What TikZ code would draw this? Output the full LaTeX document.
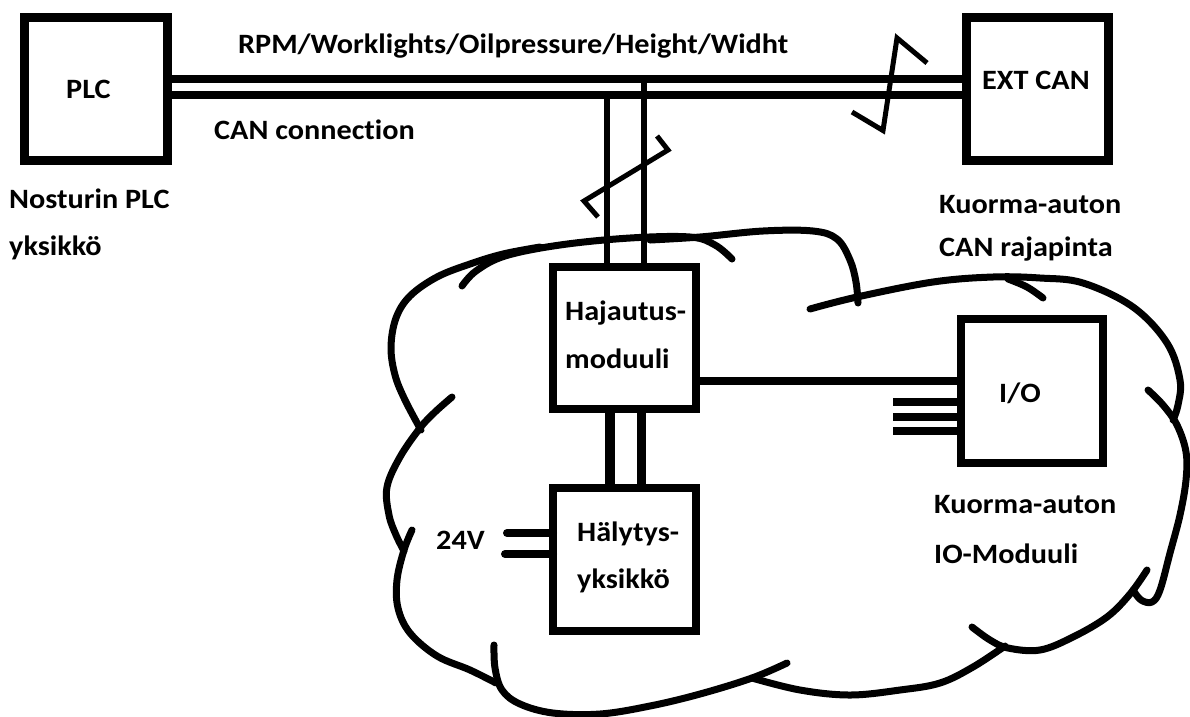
\documentclass[tikz,border=0pt]{standalone}
\usepackage{fontspec}
\setmainfont{Carlito}[FakeStretch=1.08, Ligatures=NoCommon]
\usetikzlibrary{calc}
\begin{document}
\begin{tikzpicture}[x=1pt,y=-1pt,
  box/.style={draw, line width=8.5pt, inner sep=0pt, outer sep=0pt,
              minimum width=143pt, minimum height=143pt},
  lbl/.style={font=\fontsize{28}{32}\selectfont\bfseries, inner sep=0pt, anchor=base west},
  wire/.style={line width=8pt},
  drop/.style={line width=6pt},
  brk/.style={line width=5pt, line join=miter},
  cloudline/.style={line width=7pt, line cap=round, line join=round}]

% canvas
\fill[white] (0,0) rectangle (1190,716);
\useasboundingbox (0,0) rectangle (1190,716);

% ---------------- cloud (truck side) ----------------
% upper-left lobe
\draw[cloudline] plot[smooth, tension=0.6] coordinates {(421,430) (405,400) (395,375) (391,347) (396,318) (410,296) (437,277) (470,264) (503,254) (540,247)};
% top-left lobe
\draw[cloudline] plot[smooth, tension=0.6] coordinates {(462,286) (476,271) (505,256) (560,245) (630,238) (690,237) (715,245) (732,259)};
% top-middle lobe
\draw[cloudline] plot[smooth, tension=0.6] coordinates {(650,240) (700,237) (763,231) (813,231) (837,239) (850,260) (856,282) (858,303)};
% top-right lobe
\draw[cloudline] plot[smooth, tension=0.6] coordinates {(810,309) (857,297) (933,282) (993,277) (1040,278) (1083,283) (1133,307) (1167,343) (1180,380) (1178,405) (1173,420)};
\draw[cloudline] plot[smooth, tension=0.6] coordinates {(1008,279) (1027,287) (1043,298)};
% right lobe
\draw[cloudline] plot[smooth, tension=0.6] coordinates {(1148,390) (1163,405) (1177,425) (1186,452) (1186,480) (1180,515) (1170,553) (1160,590) (1152,602) (1141,600) (1133,590)};
% bottom-right lobe
\draw[cloudline] plot[smooth, tension=0.6] coordinates {(972,627) (990,640) (1008,648) (1040,650) (1073,637) (1107,617) (1130,594) (1147,570)};
% bottom-middle lobe
\draw[cloudline] plot[smooth, tension=0.6] coordinates {(752,678) (800,690) (850,695) (900,690) (940,683) (973,667) (1005,646)};
% bottom-left lobe
\draw[cloudline] plot[smooth, tension=0.6] coordinates {(494,645) (495,668) (502,690) (520,704) (553,713) (600,714) (650,706) (700,694) (752,678) (787,663)};
% lower-left lobe
\draw[cloudline] plot[smooth, tension=0.6] coordinates {(412,530) (404,550) (397,580) (398,608) (410,633) (437,656) (470,670) (496,683)};
% middle-left lobe
\draw[cloudline] plot[smooth, tension=0.6] coordinates {(452,397) (435,412) (420,428) (400,457) (387,487) (389,515) (396,535) (404,551)};

% ---------------- units ----------------
\node[box, line width=9pt] (plc) at (96,89) {};
\node[box, line width=9pt, minimum width=142pt] (ext) at (1037.5,89) {};
\node[box, minimum height=142pt] (haj) at (624.5,338) {};
\node[box] (hal) at (624.5,559.5) {};
\node[box, minimum width=142pt, minimum height=144pt] (io) at (1032,391) {};

% ---------------- CAN bus ----------------
\coordinate (busT) at ($(plc.east)+(0,-10)$);
\coordinate (busB) at ($(plc.east)+(0,6)$);
\draw[wire] (busT) -- (busT -| ext.west);
\draw[wire] (busB) -- (busB -| ext.west);

% drop from the bus to the distribution module
\coordinate (dropL) at ($(haj.north)+(-17.5,0)$);
\coordinate (dropR) at ($(haj.north)+(19.5,0)$);
\draw[drop] (dropL) -- (dropL |- busB);
\draw[drop] (dropR) -- (dropR |- busT);

% distribution module -> alarm unit
\coordinate (linkL) at ($(haj.south)+(-14.5,0)$);
\coordinate (linkR) at ($(haj.south)+(17,0)$);
\draw[line width=10pt] (linkL) -- (linkL |- hal.north);
\draw[line width=9pt] (linkR) -- (linkR |- hal.north);

% 24 V supply
\coordinate (pwrA) at (507,533);
\coordinate (pwrB) at (505,554);
\draw[wire, line cap=round] (pwrA) -- (pwrA -| hal.west);
\draw[wire, line cap=round] (pwrB) -- (pwrB -| hal.west);

% distribution module -> I/O module
\coordinate (ioline) at ($(haj.east)+(0,43)$);
\draw[wire] (ioline) -- (ioline -| io.west);
% I/O terminals
\coordinate (ioA) at (893,402);
\coordinate (ioB) at (893,417);
\coordinate (ioC) at (893,431);
\draw[wire] (ioA) -- (ioA -| io.west);
\draw[wire] (ioB) -- (ioB -| io.west);
\draw[wire] (ioC) -- (ioC -| io.west);

% break marks
\draw[brk] (852,112) -- (883,130.5) -- (897,38) -- (927,63);
\draw[brk] (598,217) -- (584,201) -- (668,150) -- (657,136);

% ---------------- labels ----------------
\node[lbl] (rpm) at (238,53) {RPM/Worklights/Oilpressure/Height/Widht};
\node[lbl] (canc) at (214,139) {CAN connection};
\node[lbl] (plct) at (66,98) {PLC};
\node[lbl] (extt) at (982,89) {EXT CAN};
\node[lbl] (nos1) at (9,208) {Nosturin PLC};
\node[lbl] (nos2) at (9,255) {yksikkö};
\node[lbl] (kuo1) at (939,213) {Kuorma-auton};
\node[lbl] (kuo2) at (939,256) {CAN rajapinta};
\node[lbl] (haj1) at (565,320) {Hajautus-};
\node[lbl] (haj2) at (565,368) {moduuli};
\node[lbl] (hal1) at (577,541) {Hälytys-};
\node[lbl] (hal2) at (577,588) {yksikkö};
\node[lbl] (volt) at (436,549) {24V};
\node[lbl] (iot) at (999,402) {I/O};
\node[lbl] (iom1) at (934,513) {Kuorma-auton};
\node[lbl] (iom2) at (934,563) {IO-Moduuli};
\end{tikzpicture}
\end{document}
